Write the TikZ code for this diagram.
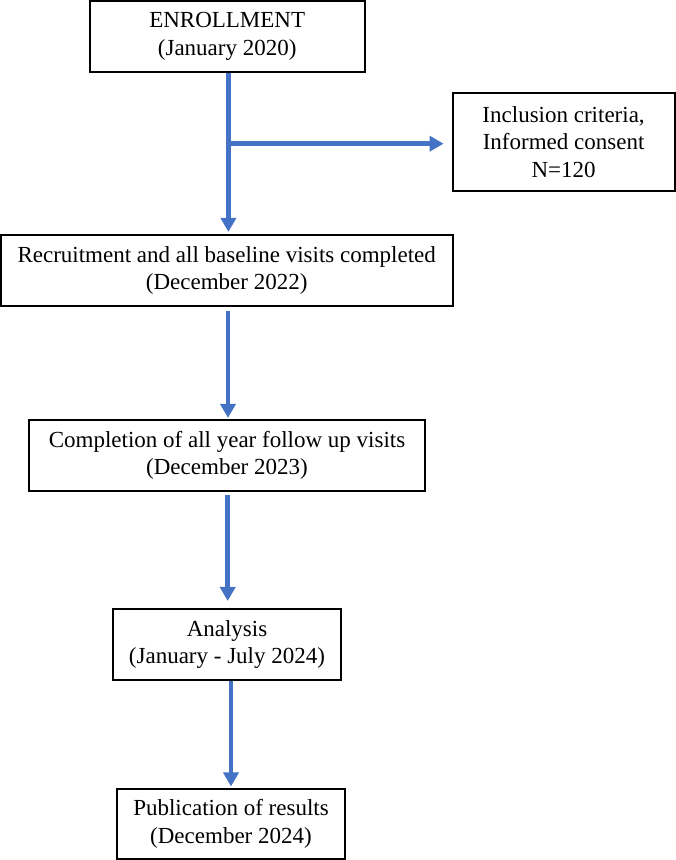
\documentclass[tikz,border=0pt]{standalone}
\usepackage{fontspec}
\setmainfont{Liberation Serif}
\usetikzlibrary{arrows.meta,calc}
\definecolor{flowblue}{RGB}{68,114,196}
\begin{document}
\begin{tikzpicture}[x=1pt,y=1pt,
  box/.style={draw=black,line width=2pt,rectangle,inner sep=0pt,align=center,
    font=\fontsize{23}{27.5}\selectfont},
  flow/.style={draw=flowblue,line width=4.5pt,-{Triangle[length=14pt,width=15pt]}}]
\useasboundingbox (0,0) rectangle (676,860);
\node[box,minimum width=275pt,minimum height=71pt] (b1) at (227.2,823.5) {ENROLLMENT\\(January 2020)};
\node[box,minimum width=222pt,minimum height=98pt] (b2) at (563.6,718.2) {Inclusion criteria,\\Informed consent\\N=120};
\node[box,minimum width=451.7pt,minimum height=70.7pt] (b3) at (226.7,589.7) {Recruitment and all baseline visits completed\\(December 2022)};
\node[box,minimum width=396pt,minimum height=70.7pt] (b4) at (227,404.7) {Completion of all year follow up visits\\(December 2023)};
\node[box,minimum width=228.3pt,minimum height=71pt] (b5) at (227,215.5) {Analysis\\(January - July 2024)};
\node[box,minimum width=228.3pt,minimum height=70pt] (b6) at (231,36) {Publication of results\\(December 2024)};
\coordinate (a1top) at ($(b1.south)+(1.2,0)$);
\coordinate (a1bot) at (a1top |- b3.north);
\coordinate (branch) at ($(a1top)+(0,-70.7)$);
\draw[flow,shorten >=2pt] (a1top) -- (a1bot);
\draw[flow,shorten >=8pt] (branch) -- (branch -| b2.west);
\coordinate (a2top) at ($(b3.south)+(1.3,0)$);
\draw[flow,shorten <=4pt,shorten >=1pt] (a2top) -- (a2top |- b4.north);
\coordinate (a3top) at ($(b4.south)+(0.7,0)$);
\draw[flow,shorten <=3.5pt,shorten >=7pt] (a3top) -- (a3top |- b5.north);
\draw[flow,shorten >=1.5pt] (b5.south -| b6.north) -- (b6.north);
\end{tikzpicture}
\end{document}
